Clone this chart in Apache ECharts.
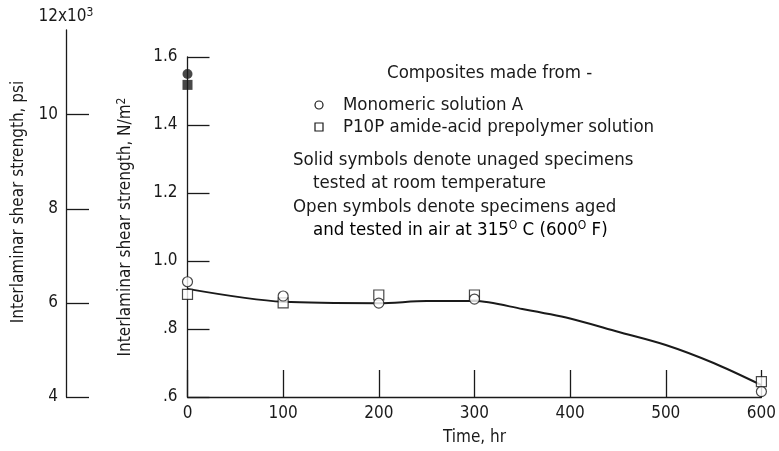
<!DOCTYPE html>
<html>
<head>
<meta charset="utf-8">
<script src="https://cdn.jsdelivr.net/npm/echarts@6/dist/echarts.min.js"></script>
<style>
	html, body { margin: 0; padding: 0; background: #fff; }
	#chart { width: 779px; height: 451px; }
</style>
</head>
<body>
<div id="chart"></div>
<script>
// time axis, hr
var timeTicks = [0, 100, 200, 300, 400, 500, 600];
var strengthTicks = [0.6, 0.8, 1.0, 1.2, 1.4, 1.6];
var psiTicks = [4, 6, 8, 10];

// aged specimens (open symbols)
var agedHours = [0, 100, 200, 300, 600];
var monomericAged = [0.939, 0.897, 0.876, 0.888, 0.616];
var p10pAged = [0.902, 0.877, 0.900, 0.900, 0.645];

// unaged, room temperature (solid symbols)
var unagedHours = [0];
var monomericUnaged = [1.550];
var p10pUnaged = [1.518];

// faired curve
var curveHours = [0, 100, 200, 250, 300, 350, 400, 450, 500, 550, 600];
var curveValues = [0.918, 0.880, 0.876, 0.882, 0.882, 0.859, 0.831, 0.792, 0.753, 0.700, 0.635];

var FONT = "'DejaVu Sans Condensed', 'DejaVu Sans', sans-serif",
	INK = '#1a1a1a',
	LEG = '18.5px ' + FONT;

function pairs(xs, ys) {
	var out = [];
	for (var i = 0; i < xs.length; i++) {
		out.push([xs[i], ys[i]]);
	}
	return out;
}

var myChart = echarts.init(document.getElementById('chart'), null, { renderer: 'canvas' });

var supStyle = { fontSize: 12, verticalAlign: 'top', padding: [0, 0, 8, 0], fontFamily: FONT, color: INK };

function legText(x, y, text) {
	return {
		type: 'text', x: x, y: y,
		style: { text: text, font: LEG, fill: INK, verticalAlign: 'middle' }
	};
}

var option = {
	backgroundColor: '#fff',
	animation: false,
	textStyle: { fontFamily: FONT, color: INK },
	grid: [
		{ left: 187.5, right: 13, top: 57, bottom: 54 },
		{ left: 66, width: 30, top: 30, bottom: 54 }
	],
	xAxis: [
		{
			type: 'value',
			gridIndex: 0,
			min: 0,
			max: 600,
			interval: 100,
			name: 'Time, hr',
			nameLocation: 'middle',
			nameGap: 32,
			nameTextStyle: { fontSize: 17, color: INK, fontFamily: FONT },
			axisLine: { lineStyle: { color: INK, width: 1.3 } },
			axisTick: { inside: true, length: 27, lineStyle: { color: INK, width: 1.3 } },
			axisLabel: { fontSize: 17, color: INK, margin: 8, fontFamily: FONT },
			splitLine: { show: false }
		},
		{ type: 'value', gridIndex: 1, show: false, min: 0, max: 1 }
	],
	yAxis: [
		{
			type: 'value',
			gridIndex: 0,
			min: 0.6,
			max: 1.6,
			interval: 0.2,
			name: '{t|Interlaminar shear strength, N/m}{s|2}',
			nameLocation: 'middle',
			nameRotate: 90,
			nameGap: 52,
			nameTextStyle: {
				rich: {
					t: { fontSize: 17, color: INK, fontFamily: FONT },
					s: supStyle
				}
			},
			axisLine: { show: true, lineStyle: { color: INK, width: 1.3 } },
			axisTick: { show: true, inside: true, length: 22, lineStyle: { color: INK, width: 1.3 } },
			axisLabel: {
				fontSize: 17,
				color: INK,
				margin: 10,
				fontFamily: FONT,
				formatter: function (v) {
					var s = v.toFixed(1);
					return v < 1 ? s.substring(1) : s;
				}
			},
			splitLine: { show: false }
		},
		{
			type: 'value',
			gridIndex: 1,
			min: 4,
			max: 11.8,
			interval: 2,
			name: '{t|12x10}{s|3}',
			nameLocation: 'end',
			nameGap: 3,
			nameTextStyle: {
				rich: {
					t: { fontSize: 17, color: INK, fontFamily: FONT },
					s: supStyle
				}
			},
			axisLine: { show: true, lineStyle: { color: INK, width: 1.3 } },
			axisTick: { show: true, inside: true, length: 23, customValues: psiTicks, lineStyle: { color: INK, width: 1.3 } },
			axisLabel: { fontSize: 17, color: INK, margin: 8, fontFamily: FONT, customValues: psiTicks },
			splitLine: { show: false }
		}
	],
	graphic: [
		{
			type: 'text', x: 19, y: 202, rotation: Math.PI / 2,
			style: { text: 'Interlaminar shear strength, psi', font: '17px ' + FONT, fill: INK, align: 'center', verticalAlign: 'middle' }
		},
		legText(387, 73, 'Composites made from -'),
		{
			type: 'circle', shape: { cx: 319, cy: 105, r: 4 },
			style: { fill: '#fff', stroke: INK, lineWidth: 1.2 }
		},
		legText(343, 105, 'Monomeric solution A'),
		{
			type: 'rect', shape: { x: 315, y: 123, width: 8, height: 8 },
			style: { fill: '#fff', stroke: INK, lineWidth: 1.2 }
		},
		legText(343, 127, 'P10P amide-acid prepolymer solution'),
		legText(293, 160, 'Solid symbols denote unaged specimens'),
		legText(313, 183, 'tested at room temperature'),
		legText(293, 207, 'Open symbols denote specimens aged'),
		{
			type: 'text', x: 313, y: 230,
			style: {
				text: '{t|and tested in air at 315}{s|O}{t| C (600}{s|O}{t| F)}',
				verticalAlign: 'middle',
				rich: {
					t: { fontSize: 18.5, fontFamily: FONT, color: INK },
					s: supStyle
				}
			}
		}
	],
	series: [
		{
			name: 'curve',
			type: 'line',
			xAxisIndex: 0,
			yAxisIndex: 0,
			data: pairs(curveHours, curveValues),
			smooth: 0.3,
			showSymbol: false,
			lineStyle: { color: INK, width: 2 },
			z: 2
		},
		{
			name: 'Monomeric solution A (aged)',
			type: 'scatter',
			data: pairs(agedHours, monomericAged),
			symbol: 'circle',
			symbolSize: 10,
			itemStyle: { color: '#fff', borderColor: INK, borderWidth: 1.2 },
			z: 4
		},
		{
			name: 'P10P (aged)',
			type: 'scatter',
			data: pairs(agedHours, p10pAged),
			symbol: 'rect',
			symbolSize: 10,
			itemStyle: { color: '#fff', borderColor: INK, borderWidth: 1.2 },
			z: 3
		},
		{
			name: 'Monomeric solution A (unaged)',
			type: 'scatter',
			data: pairs(unagedHours, monomericUnaged),
			symbol: 'circle',
			symbolSize: 10,
			itemStyle: { color: INK },
			z: 4
		},
		{
			name: 'P10P (unaged)',
			type: 'scatter',
			data: pairs(unagedHours, p10pUnaged),
			symbol: 'rect',
			symbolSize: 10,
			itemStyle: { color: INK },
			z: 3
		}
	]
};

myChart.setOption(option);
</script>
</body>
</html>
